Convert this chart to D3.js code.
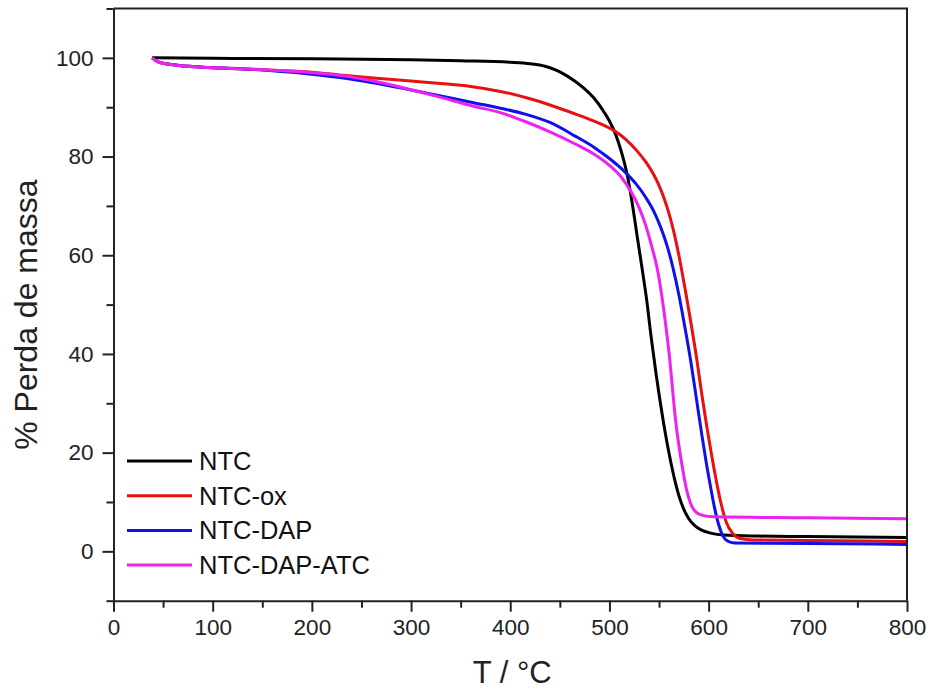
<!DOCTYPE html>
<html>
<head>
<meta charset="utf-8">
<script src="https://cdn.jsdelivr.net/npm/d3@7"></script>
<style>
  html, body { margin: 0; padding: 0; background: #fff; }
  svg { display: block; font-family: "Liberation Sans", Arial, sans-serif; }
</style>
</head>
<body>
<svg id="chart" width="928" height="691"></svg>
<script>
// ---- data (T in °C, mass %) ----
const seriesNames = ["NTC", "NTC-ox", "NTC-DAP", "NTC-DAP-ATC"];
const seriesColors = ["#000000", "#e81010", "#1010e8", "#ee22ee"];

const ntc = [[39,100],[100,99.9],[200,99.8],[300,99.6],[350,99.4],[400,99.1],[420,98.8],[435,98.3],[445,97.6],[455,96.6],[465,95.3],[475,93.7],[485,91.7],[493,89.5],[500,87.2],[506,84.6],[512,81],[518,76.2],[523,70.5],[528,63.8],[533,57.2],[537.5,51],[542,43.5],[547,36],[553,28],[559,21],[565,15.2],[570,11.3],[575,8.5],[580,6.6],[586,5.2],[593,4.3],[602,3.7],[615,3.3],[650,3.1],[700,3.0],[800,2.8]];

const ntcOx = [[39,100],[45,99.2],[60,98.6],[90,98.1],[127,97.8],[160,97.5],[200,97.1],[230,96.5],[262,95.9],[300,95.3],[330,94.8],[360,94.2],[390,93.2],[420,91.7],[445,90.1],[470,88.3],[490,86.7],[505,85.2],[517,83.4],[528,81.1],[537,78.8],[545,76.2],[552,73.2],[558,69.8],[564,65.5],[570,60],[576,53.5],[582,46.5],[588,39],[593,32],[598,25.5],[603,19.5],[608,14],[613,9.3],[618,5.8],[624,3.7],[632,2.6],[645,2.3],[700,2.2],[800,2.0]];

const ntcDap = [[39,100],[45,99.2],[60,98.6],[90,98.1],[127,97.8],[160,97.4],[190,96.9],[228,96],[260,95],[295,93.7],[330,92.3],[363,90.9],[390,89.8],[415,88.6],[440,86.9],[465,84.2],[485,81.8],[500,79.6],[515,77],[527,74.4],[537,71.6],[545,68.8],[552,65.5],[558,62],[564,57.5],[570,52],[576,45.5],[582,38.5],[588,30.5],[593,23.8],[598,17.5],[602,13],[606,8.8],[610,5.5],[614,3.3],[619,2.1],[626,1.7],[700,1.6],[800,1.4]];

const ntcDapAtc = [[39,100],[45,99.2],[60,98.6],[90,98.1],[127,97.8],[160,97.5],[200,97],[230,96.4],[262,95.3],[295,93.8],[330,92],[363,90.2],[390,88.9],[415,87.1],[440,85],[465,82.6],[485,80.4],[500,78.2],[512,75.8],[522,72.8],[530,69.6],[537,65.8],[543,61.5],[548,57.5],[553,51.5],[557,45.5],[561,38.5],[564,32],[567,26],[570,21.5],[574,16.5],[578,12.3],[582,9.6],[587,8.0],[594,7.3],[605,7.0],[700,6.8],[800,6.6]];

const seriesData = [ntc, ntcOx, ntcDap, ntcDapAtc];

const xTicks = [0, 100, 200, 300, 400, 500, 600, 700, 800];
const xMinorTicks = [50, 150, 250, 350, 450, 550, 650, 750];
const yTicks = [0, 20, 40, 60, 80, 100];
const yMinorTicks = [-10, 10, 30, 50, 70, 90, 110];

const xTitle = "T / °C";
const yTitle = "% Perda de massa";

// ---- drawing ----
const svg = d3.select("#chart");
const L = 113.5, R = 907, T = 8.5, B = 600.7;

const x = d3.scaleLinear().domain([0, 800]).range([L, R]);
const y = d3.scaleLinear().domain([-10, 110]).range([B, T]);

// curves
const line = d3.line()
  .x(d => x(d[0]))
  .y(d => y(d[1]))
  .curve(d3.curveMonotoneX);

const order = [0, 1, 2, 3];
svg.append("g").selectAll("path")
  .data(order)
  .join("path")
  .attr("d", i => line(seriesData[i]))
  .attr("fill", "none")
  .attr("stroke", i => seriesColors[i])
  .attr("stroke-width", 3)
  .attr("stroke-linejoin", "round");

// frame (top & right)
svg.append("path")
  .attr("d", `M${L},${T}H${R}V${B}`)
  .attr("fill", "none")
  .attr("stroke", "#222")
  .attr("stroke-width", 2);

// x axis
svg.append("g").attr("transform", `translate(0,${B})`)
  .call(d3.axisBottom(x).tickValues(xTicks).tickSize(11).tickSizeOuter(0).tickPadding(7).tickFormat(d3.format("d")));
const xMinor = svg.append("g").attr("transform", `translate(0,${B})`)
  .call(d3.axisBottom(x).tickValues(xMinorTicks).tickSize(7).tickSizeOuter(0).tickFormat(""));
xMinor.select(".domain").remove();

// y axis
svg.append("g").attr("transform", `translate(${L},0)`)
  .call(d3.axisLeft(y).tickValues(yTicks).tickSize(11).tickSizeOuter(0).tickPadding(9).tickFormat(d3.format("d")));
const yMinor = svg.append("g").attr("transform", `translate(${L},0)`)
  .call(d3.axisLeft(y).tickValues(yMinorTicks).tickSize(7).tickSizeOuter(0).tickFormat(""));
yMinor.select(".domain").remove();

svg.selectAll(".domain").attr("stroke", "#222").attr("stroke-width", 2);
svg.selectAll(".tick line").attr("stroke", "#222").attr("stroke-width", 2);
svg.selectAll(".tick text")
  .attr("font-family", "'Liberation Sans', Arial, sans-serif")
  .attr("font-size", 22.5)
  .attr("fill", "#222");

// axis titles
svg.append("text")
  .attr("x", (L + R) / 2 + 2)
  .attr("y", 683)
  .attr("text-anchor", "middle")
  .attr("font-size", 31)
  .attr("fill", "#222")
  .text(xTitle);

svg.append("text")
  .attr("transform", `translate(37,${(T + B) / 2 + 10}) rotate(-90)`)
  .attr("text-anchor", "middle")
  .attr("font-size", 32)
  .attr("fill", "#222")
  .text(yTitle);

// legend
const legend = svg.append("g");
const legendY0 = 461, legendDy = 34.7;
seriesNames.forEach((name, i) => {
  const yy = legendY0 + i * legendDy;
  legend.append("line")
    .attr("x1", 127).attr("x2", 192)
    .attr("y1", yy).attr("y2", yy)
    .attr("stroke", seriesColors[i])
    .attr("stroke-width", 3);
  legend.append("text")
    .attr("x", 199)
    .attr("y", yy + 9)
    .attr("font-size", 25.5)
    .attr("fill", "#111")
    .text(name);
});
</script>
</body>
</html>
